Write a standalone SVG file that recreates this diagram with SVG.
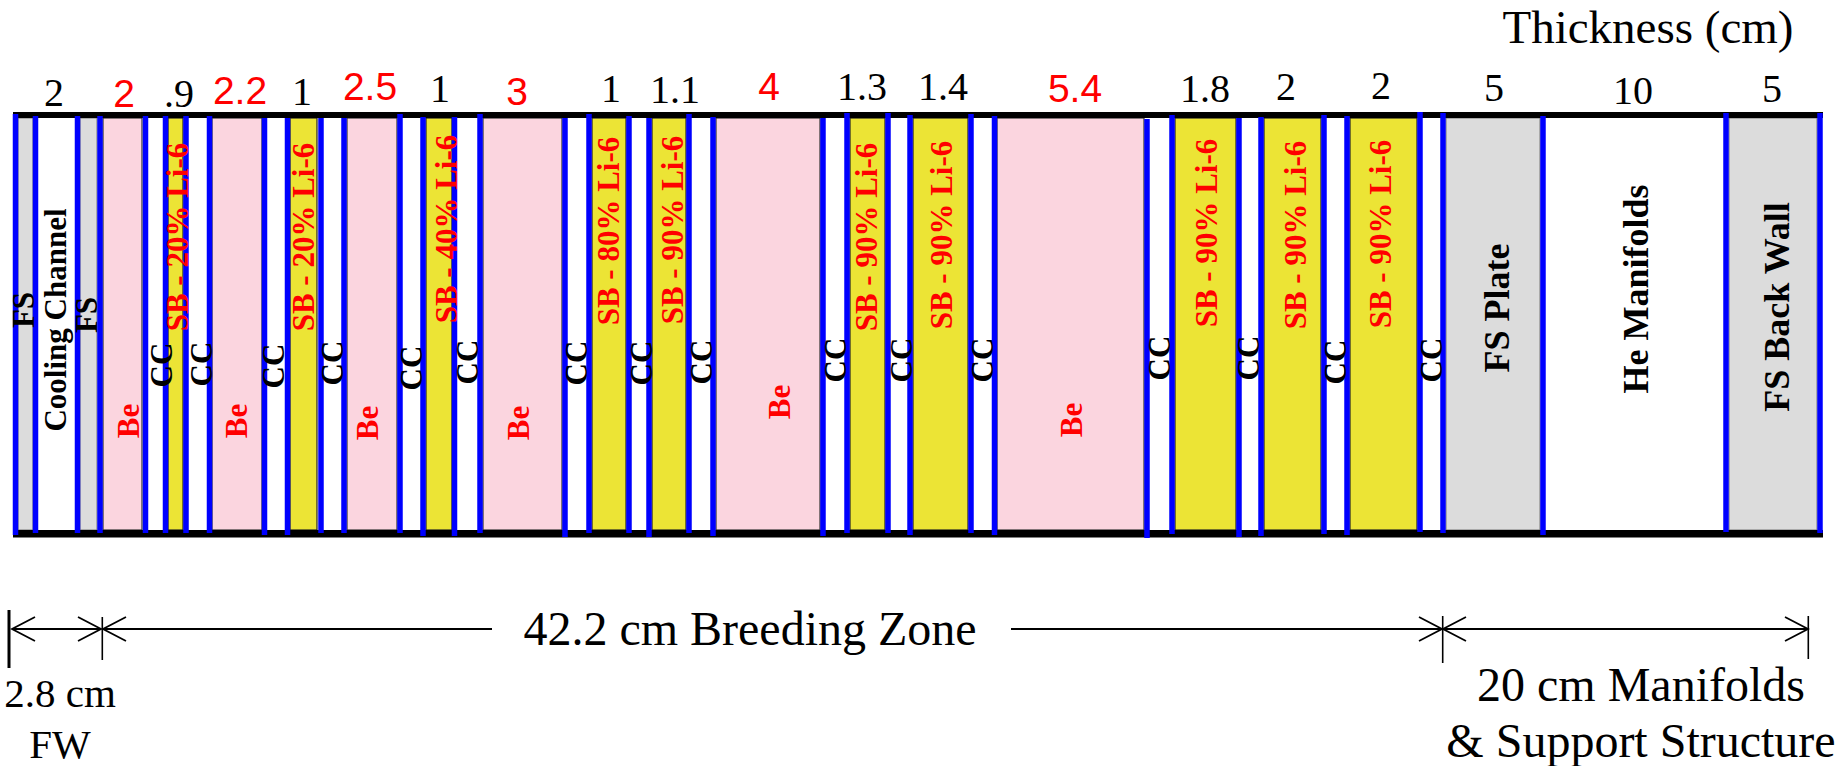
<svg xmlns="http://www.w3.org/2000/svg" width="1839" height="766" viewBox="0 0 1839 766">
<style>
.pk{fill:#FBD5DF;stroke:#333;stroke-width:1.2}
.yl{fill:#ECE435;stroke:#222;stroke-width:1.2}
.gy{fill:#DCDCDC;stroke:#777;stroke-width:1}
.wh{fill:#FFFFFF}
.bar{fill:#000}
.bl{stroke:#0000FF;stroke-width:5.5}
.lb{font-family:"Liberation Serif","Times New Roman",serif;font-weight:bold;font-size:31px;text-anchor:middle}
.lk{fill:#000}
.lr{fill:#FF0000}
.big{font-size:36px}
.tn{font-family:"Liberation Serif","Times New Roman",serif;font-size:40px;text-anchor:middle;fill:#000}
.tr{font-family:"Liberation Sans",Arial,sans-serif;font-size:39px;text-anchor:middle;fill:#FF0000}
.cap{font-family:"Liberation Serif","Times New Roman",serif;font-size:48px;text-anchor:middle;fill:#000}
.sm{font-size:41px}
.dim{stroke:#000;stroke-width:1.8;fill:none}
.tick{stroke:#000;stroke-width:1.6}
</style>
<defs>
<marker id="arr" viewBox="-25 -14 28 28" markerWidth="28" markerHeight="28" refX="0" refY="0" markerUnits="userSpaceOnUse" orient="auto-start-reverse">
<path d="M-23,-12 L0,0 L-23,12" fill="none" stroke="#000" stroke-width="1.8"/>
</marker>
</defs>
<rect width="1839" height="766" fill="#fff"/>

<g id="layers">
<g id="fs1"><rect class="gy" x="18" y="118" width="15" height="412"/></g>
<g id="cooling"><rect class="wh" x="38" y="118" width="37" height="412"/></g>
<g id="fs2"><rect class="gy" x="80" y="118" width="17" height="412"/></g>
<g id="be1"><rect class="pk" x="103" y="118" width="39" height="412"/></g>
<g id="cc1"><rect class="wh" x="148" y="118" width="15" height="412"/></g>
<g id="sb1"><rect class="yl" x="168" y="118" width="15" height="412"/></g>
<g id="cc2"><rect class="wh" x="189" y="118" width="18" height="412"/></g>
<g id="be2"><rect class="pk" x="212" y="118" width="50" height="412"/></g>
<g id="cc3"><rect class="wh" x="267" y="118" width="18" height="412"/></g>
<g id="sb2"><rect class="yl" x="290" y="118" width="27" height="412"/></g>
<g id="cc4"><rect class="wh" x="324" y="118" width="17" height="412"/></g>
<g id="be3"><rect class="pk" x="347" y="118" width="50" height="412"/></g>
<g id="cc5"><rect class="wh" x="403" y="118" width="17" height="412"/></g>
<g id="sb3"><rect class="yl" x="426" y="118" width="26" height="412"/></g>
<g id="cc6"><rect class="wh" x="457" y="118" width="20" height="412"/></g>
<g id="be4"><rect class="pk" x="483" y="118" width="79" height="412"/></g>
<g id="cc7"><rect class="wh" x="568" y="118" width="18" height="412"/></g>
<g id="sb4"><rect class="yl" x="592" y="118" width="34" height="412"/></g>
<g id="cc8"><rect class="wh" x="632" y="118" width="14" height="412"/></g>
<g id="sb5"><rect class="yl" x="652" y="118" width="34" height="412"/></g>
<g id="cc9"><rect class="wh" x="692" y="118" width="18" height="412"/></g>
<g id="be5"><rect class="pk" x="716" y="118" width="104" height="412"/></g>
<g id="cc10"><rect class="wh" x="826" y="118" width="18" height="412"/></g>
<g id="sb6"><rect class="yl" x="850" y="118" width="35" height="412"/></g>
<g id="cc11"><rect class="wh" x="891" y="118" width="16" height="412"/></g>
<g id="sb7"><rect class="yl" x="913" y="118" width="55" height="412"/></g>
<g id="cc12"><rect class="wh" x="974" y="118" width="18" height="412"/></g>
<g id="be6"><rect class="pk" x="997" y="118" width="147" height="412"/></g>
<g id="cc13"><rect class="wh" x="1150" y="118" width="19" height="412"/></g>
<g id="sb8"><rect class="yl" x="1175" y="118" width="61" height="412"/></g>
<g id="cc14"><rect class="wh" x="1242" y="118" width="16" height="412"/></g>
<g id="sb9"><rect class="yl" x="1264" y="118" width="57" height="412"/></g>
<g id="cc15"><rect class="wh" x="1327" y="118" width="17" height="412"/></g>
<g id="sb10"><rect class="yl" x="1350" y="118" width="67" height="412"/></g>
<g id="cc16"><rect class="wh" x="1423" y="118" width="17" height="412"/></g>
<g id="fsplate"><rect class="gy" x="1446" y="118" width="94" height="412"/></g>
<g id="manifolds"><rect class="wh" x="1546" y="118" width="177" height="412"/></g>
<g id="backwall"><rect class="gy" x="1729" y="118" width="88" height="412"/></g>
</g>

<g id="bars">
<rect class="bar" x="13" y="112" width="1810" height="6"/>
<rect class="bar" x="13" y="530" width="1810" height="7.5"/>
</g>

<g id="walls">
<line class="bl" x1="15.5" y1="114" x2="15.5" y2="535"/>
<line class="bl" x1="35.5" y1="116" x2="35.5" y2="533"/>
<line class="bl" x1="77.5" y1="116" x2="77.5" y2="533"/>
<line class="bl" x1="100" y1="116" x2="100" y2="533"/>
<line class="bl" x1="145.5" y1="116" x2="145.5" y2="533"/>
<line class="bl" x1="165.5" y1="116" x2="165.5" y2="533"/>
<line class="bl" x1="186" y1="116" x2="186" y2="533"/>
<line class="bl" x1="209.5" y1="116" x2="209.5" y2="533"/>
<line class="bl" x1="264.5" y1="118" x2="264.5" y2="535"/>
<line class="bl" x1="287.5" y1="118" x2="287.5" y2="535"/>
<line class="bl" x1="321" y1="118" x2="321" y2="533"/>
<line class="bl" x1="344" y1="118" x2="344" y2="533"/>
<line class="bl" x1="400" y1="114" x2="400" y2="533"/>
<line class="bl" x1="423" y1="117" x2="423" y2="536"/>
<line class="bl" x1="454.5" y1="117" x2="454.5" y2="536"/>
<line class="bl" x1="480" y1="114" x2="480" y2="533"/>
<line class="bl" x1="565" y1="118" x2="565" y2="537"/>
<line class="bl" x1="589" y1="114" x2="589" y2="533"/>
<line class="bl" x1="629" y1="116" x2="629" y2="533"/>
<line class="bl" x1="649" y1="118" x2="649" y2="537"/>
<line class="bl" x1="689" y1="114" x2="689" y2="533"/>
<line class="bl" x1="713" y1="117" x2="713" y2="536"/>
<line class="bl" x1="823" y1="118" x2="823" y2="536"/>
<line class="bl" x1="847" y1="113" x2="847" y2="533"/>
<line class="bl" x1="888" y1="113" x2="888" y2="533"/>
<line class="bl" x1="910" y1="115" x2="910" y2="535"/>
<line class="bl" x1="971" y1="114" x2="971" y2="533"/>
<line class="bl" x1="994.5" y1="116" x2="994.5" y2="535"/>
<line class="bl" x1="1147" y1="119" x2="1147" y2="538"/>
<line class="bl" x1="1172" y1="115" x2="1172" y2="534"/>
<line class="bl" x1="1239" y1="118" x2="1239" y2="537"/>
<line class="bl" x1="1261" y1="117" x2="1261" y2="536"/>
<line class="bl" x1="1324" y1="115" x2="1324" y2="534"/>
<line class="bl" x1="1347" y1="116" x2="1347" y2="535"/>
<line class="bl" x1="1420" y1="112" x2="1420" y2="532"/>
<line class="bl" x1="1443" y1="113" x2="1443" y2="533"/>
<line class="bl" x1="1543" y1="116" x2="1543" y2="535"/>
<line class="bl" x1="1726" y1="113" x2="1726" y2="532"/>
<line class="bl" x1="1820" y1="113" x2="1820" y2="533"/>
</g>

<g id="labels">
<text class="lb lk" transform="translate(24,310) rotate(-90)" dy="0.33em">FS</text>
<text class="lb lk" transform="translate(56,320) rotate(-90)" dy="0.33em">Cooling Channel</text>
<text class="lb lk" transform="translate(87,315) rotate(-90)" dy="0.33em">FS</text>
<text class="lb lr" transform="translate(129,421) rotate(-90)" dy="0.33em">Be</text>
<text class="lb lk" transform="translate(162,365) rotate(-90)" dy="0.33em">CC</text>
<text class="lb lr" transform="translate(178,237) rotate(-90)" dy="0.33em">SB - 20% Li-6</text>
<text class="lb lk" transform="translate(202,364) rotate(-90)" dy="0.33em">CC</text>
<text class="lb lr" transform="translate(237,421) rotate(-90)" dy="0.33em">Be</text>
<text class="lb lk" transform="translate(274,366) rotate(-90)" dy="0.33em">CC</text>
<text class="lb lr" transform="translate(304,237) rotate(-90)" dy="0.33em">SB - 20% Li-6</text>
<text class="lb lk" transform="translate(333,363) rotate(-90)" dy="0.33em">CC</text>
<text class="lb lr" transform="translate(368,423) rotate(-90)" dy="0.33em">Be</text>
<text class="lb lk" transform="translate(412,368) rotate(-90)" dy="0.33em">CC</text>
<text class="lb lr" transform="translate(447,229) rotate(-90)" dy="0.33em">SB - 40% Li-6</text>
<text class="lb lk" transform="translate(468,362) rotate(-90)" dy="0.33em">CC</text>
<text class="lb lr" transform="translate(519,423) rotate(-90)" dy="0.33em">Be</text>
<text class="lb lk" transform="translate(577,363) rotate(-90)" dy="0.33em">CC</text>
<text class="lb lr" transform="translate(609,231) rotate(-90)" dy="0.33em">SB - 80% Li-6</text>
<text class="lb lk" transform="translate(642,363) rotate(-90)" dy="0.33em">CC</text>
<text class="lb lr" transform="translate(673,230) rotate(-90)" dy="0.33em">SB - 90% Li-6</text>
<text class="lb lk" transform="translate(702,362) rotate(-90)" dy="0.33em">CC</text>
<text class="lb lr" transform="translate(780,402) rotate(-90)" dy="0.33em">Be</text>
<text class="lb lk" transform="translate(836,360) rotate(-90)" dy="0.33em">CC</text>
<text class="lb lr" transform="translate(867,237) rotate(-90)" dy="0.33em">SB - 90% Li-6</text>
<text class="lb lk" transform="translate(902,360) rotate(-90)" dy="0.33em">CC</text>
<text class="lb lr" transform="translate(942,235) rotate(-90)" dy="0.33em">SB - 90% Li-6</text>
<text class="lb lk" transform="translate(983,360) rotate(-90)" dy="0.33em">CC</text>
<text class="lb lr" transform="translate(1072,420) rotate(-90)" dy="0.33em">Be</text>
<text class="lb lk" transform="translate(1160,358) rotate(-90)" dy="0.33em">CC</text>
<text class="lb lr" transform="translate(1207,233) rotate(-90)" dy="0.33em">SB - 90% Li-6</text>
<text class="lb lk" transform="translate(1249,358) rotate(-90)" dy="0.33em">CC</text>
<text class="lb lr" transform="translate(1296,235) rotate(-90)" dy="0.33em">SB - 90% Li-6</text>
<text class="lb lk" transform="translate(1336,362) rotate(-90)" dy="0.33em">CC</text>
<text class="lb lr" transform="translate(1381,234) rotate(-90)" dy="0.33em">SB - 90% Li-6</text>
<text class="lb lk" transform="translate(1432,360) rotate(-90)" dy="0.33em">CC</text>
<text class="lb lk big" transform="translate(1497,308) rotate(-90)" dy="0.33em">FS Plate</text>
<text class="lb lk big" transform="translate(1636,289) rotate(-90)" dy="0.33em">He Manifolds</text>
<text class="lb lk big" transform="translate(1777,307) rotate(-90)" dy="0.33em">FS Back Wall</text>
</g>

<g id="thickness">
<text class="cap" x="1648" y="43" style="font-size:47px">Thickness (cm)</text>
<text class="tn" x="54" y="106">2</text>
<text class="tr" x="124" y="107">2</text>
<text class="tn" x="179" y="107">.9</text>
<text class="tr" x="240" y="104">2.2</text>
<text class="tn" x="302" y="105">1</text>
<text class="tr" x="370" y="100">2.5</text>
<text class="tn" x="440" y="102">1</text>
<text class="tr" x="517" y="105">3</text>
<text class="tn" x="611" y="102">1</text>
<text class="tn" x="675" y="103">1.1</text>
<text class="tr" x="769" y="100">4</text>
<text class="tn" x="862" y="100">1.3</text>
<text class="tn" x="943" y="100">1.4</text>
<text class="tr" x="1075" y="102">5.4</text>
<text class="tn" x="1205" y="102">1.8</text>
<text class="tn" x="1286" y="100">2</text>
<text class="tn" x="1381" y="99">2</text>
<text class="tn" x="1494" y="101">5</text>
<text class="tn" x="1633" y="104">10</text>
<text class="tn" x="1772" y="102">5</text>
</g>

<g id="connectors">
<line x1="9" y1="610" x2="9" y2="668" stroke="#000" stroke-width="3"/>
<line class="tick" x1="102.3" y1="617" x2="102.3" y2="660"/>
<line class="tick" x1="1442.7" y1="616" x2="1442.7" y2="663"/>
<line class="tick" x1="1808.3" y1="616" x2="1808.3" y2="659"/>
<line class="dim" x1="12" y1="629" x2="101" y2="629" stroke="#444" marker-start="url(#arr)" marker-end="url(#arr)"/>
<line class="dim" x1="103" y1="629" x2="492" y2="629" marker-start="url(#arr)"/>
<line class="dim" x1="1011" y1="629" x2="1442" y2="629" marker-end="url(#arr)"/>
<line class="dim" x1="1443" y1="629" x2="1808" y2="629" marker-start="url(#arr)" marker-end="url(#arr)"/>
</g>

<g id="dimension-labels">
<text class="cap sm" x="60" y="707">2.8 cm</text>
<text class="cap sm" x="60" y="758">FW</text>
<text class="cap" x="750" y="645">42.2 cm Breeding Zone</text>
<text class="cap" x="1641" y="701">20 cm Manifolds</text>
<text class="cap" x="1641" y="757">&amp; Support Structure</text>
</g>
</svg>
